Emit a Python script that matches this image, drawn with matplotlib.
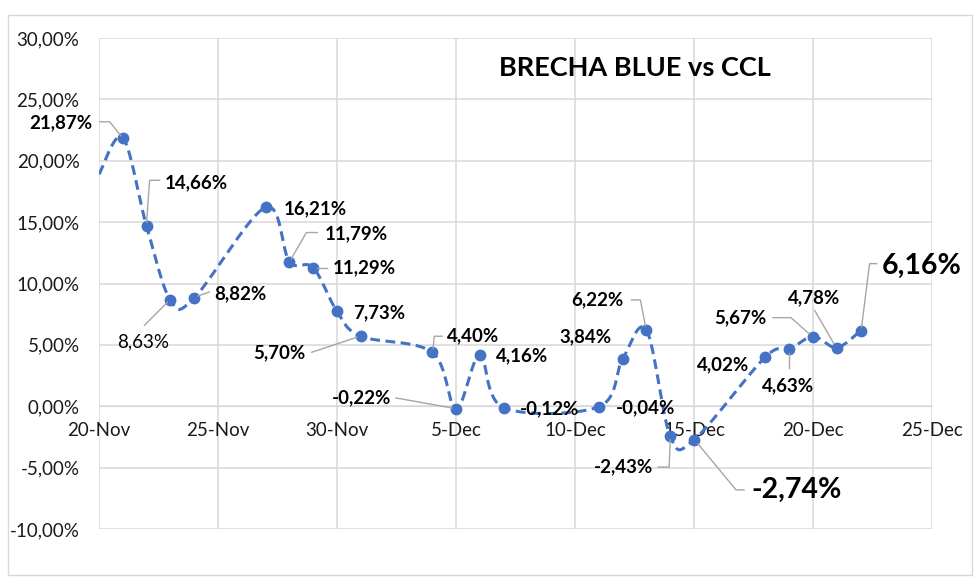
import matplotlib
matplotlib.use('Agg')
import matplotlib.pyplot as plt
import matplotlib.dates as mdates
from matplotlib.lines import Line2D
from matplotlib.patches import Rectangle
from matplotlib.transforms import IdentityTransform
import numpy as np
import datetime as dt

plt.rcParams['font.family'] = ['Lato', 'DejaVu Sans']

# ---------------- data ----------------
dates = ['2023-11-20', '2023-11-21', '2023-11-22', '2023-11-23', '2023-11-24',
         '2023-11-27', '2023-11-28', '2023-11-29', '2023-11-30', '2023-12-01',
         '2023-12-04', '2023-12-05', '2023-12-06', '2023-12-07', '2023-12-11',
         '2023-12-12', '2023-12-13', '2023-12-14', '2023-12-15', '2023-12-18',
         '2023-12-19', '2023-12-20', '2023-12-21', '2023-12-22']
values = [18.90, 21.87, 14.66, 8.63, 8.82,
          16.21, 11.79, 11.29, 7.73, 5.70,
          4.40, -0.22, 4.16, -0.12, -0.04,
          3.84, 6.22, -2.43, -2.74, 4.02,
          4.63, 5.67, 4.78, 6.16]
show_marker = [False] + [True] * 23
title = 'BRECHA BLUE vs CCL'
x_ticks = ['2023-11-20', '2023-11-25', '2023-11-30', '2023-12-05',
           '2023-12-10', '2023-12-15', '2023-12-20', '2023-12-25']
y_ticks = [-10, -5, 0, 5, 10, 15, 20, 25, 30]

# ---------------- label styling (offsets in pixels, y downward) ----------------
# style: 'b' bold, 'r' regular, 'L' large bold
label_style = [None, 'b', 'b', 'r', 'b',
               'b', 'b', 'b', 'b', 'b',
               'b', 'b', 'b', 'b', 'b',
               'b', 'b', 'b', 'L', 'b',
               'b', 'b', 'b', 'L']
label_offset = [None, (-30, -15, 'right'), (18, -44, 'left'), (-27, 42, 'center'), (20, -4, 'left'),
                (18, 1, 'left'), (35, -28, 'left'), (20, 0, 'left'), (16, 1, 'left'), (-55, 16, 'right'),
                (15, -16, 'left'), (-65, -11, 'right'), (16, 1, 'left'), (16, 1, 'left'), (17, 1, 'left'),
                (-11, -22, 'right'), (-23, -30, 'right'), (-17, 31, 'right'), (57, 50, 'left'), (-16, 8, 'right'),
                (-1, 36, 'center'), (-47, -19, 'right'), (-23, -50, 'center'), (21, -65, 'left')]
leaders = [None, [(-23, -16), (-13, -16), (-2, -2)], [(13, -46), (3, -46), (0, -4)],
           [(-26, 25), (-3, 2)], [(15, -6), (4, -2)],
           None, [(28, -29), (17, -29), (2, -3)], [(14, 0), (4, 0)], None, [(-49, 16), (-4, 1)],
           [(10, -16), (2, -16), (1, -4)], [(-60, -11), (-4, -1)], None, None, None,
           None, [(-15, -30), (-6, -30), (-1, -4)], [(-12, 31), (-1, 31), (0, 4)],
           [(50, 50), (42, 50), (4, 4)], None,
           [(0, 19), (0, 4)], [(-40, -19), (-22, -19), (-4, -3)], [(-22, -37), (-3, -4)],
           [(16, -67), (9, -67), (1, -4)]]

W, H = 980, 582
fig = plt.figure(figsize=(W / 100, H / 100), dpi=100)
ax = fig.add_axes([99 / W, 1 - 529 / H, (932 - 99) / W, (529 - 38) / H])

xd = np.array([mdates.date2num(dt.datetime.strptime(d, '%Y-%m-%d')) for d in dates])
yv = np.array(values)

# Excel-like smoothed curve (Catmull-Rom via cubic Bezier)
P = np.column_stack([xd, yv])
Pext = np.vstack([P[0], P, P[-1]])
curve = []
t = np.linspace(0, 1, 40)[:, None]
for i in range(len(P) - 1):
    p0, p1, p2, p3 = Pext[i], Pext[i + 1], Pext[i + 2], Pext[i + 3]
    c1 = p1 + (p2 - p0) / 6
    c2 = p2 - (p3 - p1) / 6
    seg = ((1 - t) ** 3) * p1 + 3 * ((1 - t) ** 2) * t * c1 + 3 * (1 - t) * t ** 2 * c2 + t ** 3 * p2
    curve.append(seg if i == 0 else seg[1:])
curve = np.vstack(curve)

blue = '#4472C4'
ax.plot(curve[:, 0], curve[:, 1], color=blue, lw=2.2, linestyle=(0, (3.2, 1.8)),
        dash_capstyle='butt', zorder=3)
mx = xd[np.array(show_marker)]
my = yv[np.array(show_marker)]
ax.plot(mx, my, 'o', color=blue, ms=7.5, zorder=4)

xt = [mdates.date2num(dt.datetime.strptime(d, '%Y-%m-%d')) for d in x_ticks]
ax.set_xlim(xt[0], xt[-1])
ax.set_ylim(y_ticks[0], y_ticks[-1])
ax.set_xticks(xt)
ax.set_xticklabels([f"{mdates.num2date(v).day}-{mdates.num2date(v).strftime('%b')}" for v in xt])
ax.set_yticks(y_ticks)
ax.set_yticklabels([f"{v:.2f}".replace('.', ',') + '%' for v in y_ticks])
ax.grid(True, color='#d9d9d9', lw=1.1, zorder=0)
ax.set_axisbelow(True)
for s in ['top', 'right', 'left']:
    ax.spines[s].set_visible(False)
ax.spines['bottom'].set_position(('data', 0))
ax.spines['bottom'].set_color('#d9d9d9')
ax.tick_params(axis='both', length=0, labelsize=13.5, colors='#1a1a1a')
ax.tick_params(axis='y', pad=14)
ax.tick_params(axis='x', pad=11)

# data labels and leader lines
for i in range(len(values)):
    if label_style[i] is None:
        continue
    dx, dy, ha = label_offset[i]
    txt = f"{values[i]:.2f}".replace('.', ',') + '%'
    st = label_style[i]
    fs = 20.5 if st == 'L' else 13.5
    fw = 'normal' if st == 'r' else 'bold'
    ax.annotate(txt, xy=(xd[i], yv[i]), xytext=(dx, -dy), textcoords='offset pixels',
                ha=ha, va='center', fontsize=fs, fontweight=fw, color='black', zorder=5)

fig.canvas.draw()
for i in range(len(values)):
    if leaders[i] is None:
        continue
    px, py = ax.transData.transform((xd[i], yv[i]))
    xs = [px + a for a, b in leaders[i]]
    ys = [py - b for a, b in leaders[i]]
    fig.add_artist(Line2D(xs, ys, transform=IdentityTransform(), color='#a6a6a6', lw=1.0, zorder=2))

fig.text(635 / W, 1 - 68 / H, title, ha='center', va='center', fontsize=19.5, fontweight='bold', color='black')
fig.patches.append(Rectangle((8 / W, 1 - 575 / H), (972 - 8) / W, (575 - 15) / H,
                             transform=fig.transFigure, fill=False, ec='#d9d9d9', lw=1))

fig.savefig('out.png', dpi=100)
